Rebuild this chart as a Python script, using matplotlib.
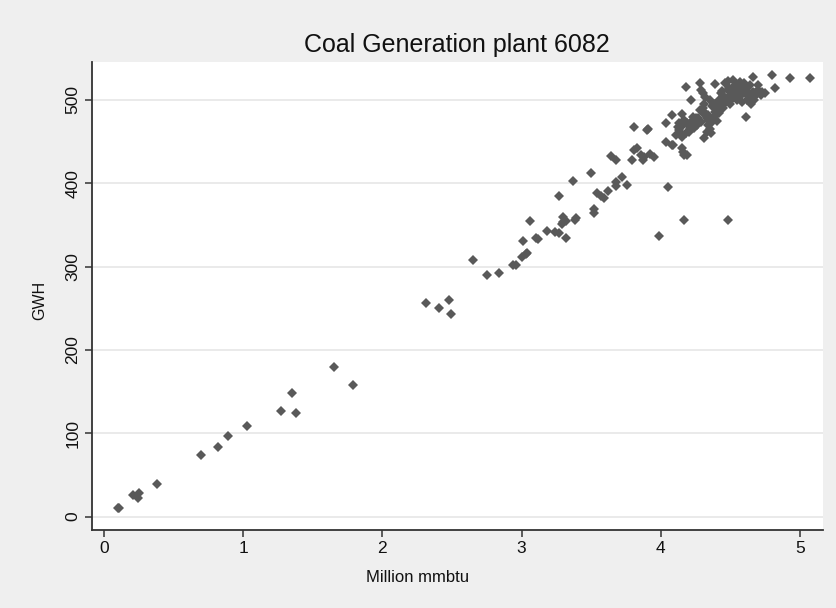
import matplotlib
matplotlib.use("Agg")
import matplotlib.pyplot as plt

# Heat input (million mmbtu) and net generation (GWh) for plant 6082
mmbtu = [
    0.10, 0.11, 0.21, 0.25, 0.245, 0.38, 0.70, 0.82, 0.89, 1.03, 1.27, 1.35, 1.38, 1.65, 1.79,
    2.31, 2.41, 2.48, 2.49, 2.65, 2.75, 2.84,
    2.94, 2.96, 3.00, 3.03, 3.04, 3.01, 3.06, 3.10, 3.12, 3.18, 3.24, 3.27, 3.27, 3.30, 3.30,
    3.32, 3.29, 3.32, 3.38, 3.39, 3.37, 3.50, 3.52, 3.52, 3.54, 3.57, 3.59, 3.62, 3.68, 3.68,
    3.72, 3.76, 3.64, 3.68,
    3.79, 3.81, 3.81, 3.83, 3.86, 3.87, 3.88, 3.92, 3.95, 3.91, 3.90, 4.05, 3.99, 4.17, 4.48,
    4.04, 4.08, 4.09, 4.15, 4.16, 4.17, 4.19, 4.04, 4.08, 4.15,
    4.12, 4.13, 4.14, 4.15, 4.16, 4.19, 4.22, 4.25, 4.27, 4.20, 4.24, 4.26,
    4.18, 4.22, 4.28, 4.29, 4.30, 4.32, 4.39, 4.46, 4.48, 4.52, 4.57, 4.66, 4.80, 4.93, 5.07,
    4.82, 4.44, 4.43, 4.61, 4.31, 4.73,
    4.30, 4.32, 4.33, 4.34, 4.35, 4.36, 4.31, 4.35, 4.38, 4.40, 4.42, 4.45, 4.47, 4.50, 4.52,
    4.55, 4.58, 4.60, 4.62, 4.64, 4.66, 4.68, 4.70, 4.55, 4.58, 4.62, 4.65, 4.38, 4.40, 4.42,
    4.36, 4.33, 4.45, 4.48, 4.53, 4.60, 4.50, 4.57, 4.63, 4.70, 4.75, 4.67, 4.28, 4.34,
    4.13, 4.17, 4.21, 4.23, 4.29, 4.31, 4.37, 4.41, 4.44, 4.47, 4.51, 4.54, 4.56, 4.59, 4.61,
    4.64, 4.68, 4.72, 4.49, 4.39, 4.34, 4.26, 4.18, 4.11,
]
gwh = [
    11, 10, 26, 28, 23, 39, 74, 84, 97, 109, 127, 149, 124, 180, 158,
    256, 251, 260, 243, 308, 290, 293,
    302, 302, 312, 315, 317, 331, 355, 335, 333, 343, 342, 340, 385, 360, 354,
    355, 351, 335, 356, 358, 403, 413, 369, 364, 388, 385, 382, 391, 397, 402,
    408, 398, 433, 428,
    428, 468, 440, 442, 434, 428, 432, 435, 432, 465, 464, 396, 337, 356, 356,
    450, 446, 446, 442, 438, 434, 434, 472, 482, 483,
    468, 464, 460, 456, 470, 472, 474, 478, 478, 462, 466, 470,
    516, 500, 520, 512, 508, 504, 519, 520, 523, 524, 522, 528, 530, 527, 526,
    514, 511, 509, 480, 454, 510,
    490, 485, 478, 470, 465, 460, 495, 500, 495, 490, 500, 505, 498, 505, 510,
    515, 512, 508, 515, 518, 510, 505, 512, 500, 498, 500, 495, 480, 475, 485,
    472, 462, 490, 512, 518, 520, 495, 505, 505, 518, 508, 500, 488, 482,
    472, 476, 466, 480, 474, 483, 493, 497, 496, 503, 501, 507, 510, 514, 511,
    502, 508, 506, 515, 486, 476, 472, 460, 458,
]

title = "Coal Generation plant 6082"
x_label = "Million mmbtu"
y_label = "GWH"
x_ticks = [0, 1, 2, 3, 4, 5]
y_ticks = [0, 100, 200, 300, 400, 500]

plt.rcParams["font.family"] = ["Liberation Sans", "DejaVu Sans"]

W, H = 836, 608
fig = plt.figure(figsize=(W / 100, H / 100), dpi=100, facecolor="#efefef")
left, right, top, bottom = 91.7, 823, 62, 530
ax = fig.add_axes([left / W, 1 - bottom / H, (right - left) / W, (bottom - top) / H])
ax.set_facecolor("white")

ax.plot(mmbtu, gwh, linestyle="none", marker="D", markersize=4.9,
        color="#595959", markeredgewidth=0, zorder=3)

ax.set_xlim(-0.088, 5.165)
ax.set_ylim(-16, 545.6)
ax.set_xticks(x_ticks)
ax.set_yticks(y_ticks)
ax.set_xticklabels([str(t) for t in x_ticks], fontsize=12.5)
ax.set_yticklabels([str(t) for t in y_ticks], fontsize=12.5, rotation=90, va="center")

ax.yaxis.grid(True, color="#e6e6e6", linewidth=1.2, zorder=0)
ax.xaxis.grid(False)
ax.set_axisbelow(True)

for side in ("top", "right"):
    ax.spines[side].set_visible(False)
for side in ("left", "bottom"):
    ax.spines[side].set_color("#333333")
    ax.spines[side].set_linewidth(1.3)
ax.tick_params(axis="both", direction="out", length=5, width=1.1, color="#333333",
               labelcolor="#111111", pad=3)

ax.set_title(title, fontsize=18, color="#111111", pad=7)
fig.text(0.5, 1 - 577 / H, x_label, ha="center", va="center", fontsize=12, color="#111111")
fig.text(40 / W, 1 - 300 / H, y_label, ha="center", va="center", rotation=90,
         fontsize=11.5, color="#111111")

fig.savefig("out.png", dpi=100, facecolor=fig.get_facecolor())
